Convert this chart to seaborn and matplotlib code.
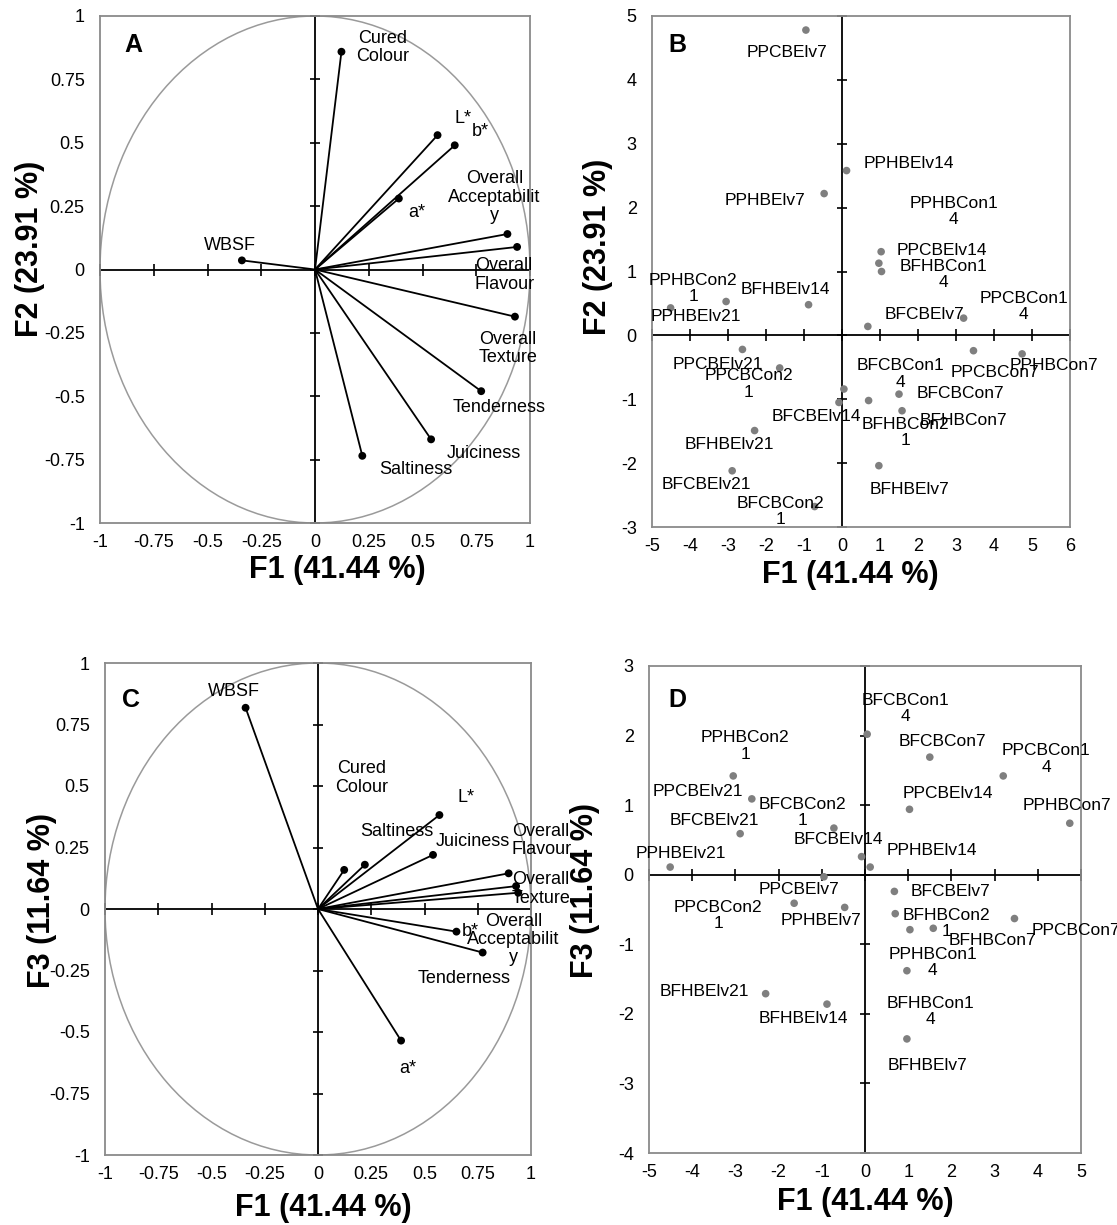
import numpy as np
import pandas as pd
import matplotlib
matplotlib.use("Agg")
import matplotlib.pyplot as plt
import seaborn as sns
from matplotlib.patches import Circle

sns.set_style("white")
plt.rcParams['font.family'] = ['Liberation Sans', 'DejaVu Sans']
plt.rcParams['text.color'] = 'black'
plt.rcParams['axes.labelcolor'] = 'black'
plt.rcParams['xtick.color'] = 'black'
plt.rcParams['ytick.color'] = 'black'

# --- variables (correlation circles A and C)
var_labels = ["WBSF", "Cured\nColour", "L*", "b*", "a*",
              "Overall\nAcceptabilit\ny", "Overall\nFlavour", "Overall\nTexture",
              "Tenderness", "Juiciness", "Saltiness"]
var_f1 = [-0.34, 0.123, 0.57, 0.65, 0.39, 0.895, 0.94, 0.93, 0.773, 0.54, 0.22]
var_f2 = [0.036, 0.859, 0.53, 0.49, 0.28, 0.14, 0.089, -0.186, -0.48, -0.67, -0.735]
var_f3 = [0.818, 0.159, 0.382, -0.092, -0.535, 0.145, 0.066, 0.093, -0.177, 0.22, 0.18]

# --- samples (score plots B and D)
samples = ["PPCBElv7", "PPHBElv14", "PPHBElv7", "PPCBElv14", "BFHBCon14", "PPHBCon14",
           "PPHBElv21", "PPHBCon21", "BFHBElv14", "BFCBElv7", "PPCBCon14", "PPCBElv21",
           "PPCBCon21", "PPCBCon7", "PPHBCon7", "BFCBCon14", "BFCBElv14", "BFHBCon21",
           "BFCBCon7", "BFHBCon7", "BFHBElv21", "BFCBElv21", "BFHBElv7", "BFCBCon21"]
smp_f1 = [-0.95, 0.12, -0.47, 1.03, 0.97, 1.04, -4.51, -3.05, -0.88, 0.68, 3.2, -2.62,
          -1.64, 3.46, 4.74, 0.05, -0.08, 0.70, 1.50, 1.58, -2.30, -2.89, 0.97, -0.72]
smp_f2 = [4.78, 2.58, 2.22, 1.31, 1.13, 1.0, 0.43, 0.53, 0.48, 0.14, 0.27, -0.22,
          -0.51, -0.24, -0.29, -0.84, -1.05, -1.02, -0.92, -1.18, -1.49, -2.12, -2.04, -2.68]
smp_f3 = [-0.03, 0.11, -0.47, 0.94, -1.38, -0.79, 0.11, 1.42, -1.86, -0.24, 1.42, 1.09,
          -0.41, -0.63, 0.74, 2.02, 0.26, -0.56, 1.69, -0.77, -1.71, 0.59, -2.36, 0.67]

# label offsets (pixels) for each text
off_A = [(-12, 15), (41, 4), (26, 17), (26, 14), (18, -14), (-13, 37), (-13, -28),
         (-7, -32), (18, -16), (53, -14), (54, -14)]
off_C = [(-12, 16), (17, 92), (27, 18), (14, 0), (7, -28), (5, -66), (23, 52),
         (25, -3), (-19, -26), (40, 13), (32, 33)]
off_B = [(-19, -22), (62, 7), (-59, -7), (61, 1), (65, -11), (72, 60), (25, -9), (-33, 13),
         (-23, 15), (57, 12), (60, 12), (-25, -15), (-31, -16), (21, -22), (32, -12), (57, 15),
         (-23, -14), (37, -32), (61, 1), (61, -10), (-25, -14), (-26, -14), (31, -24), (-34, -5)]
off_D = [(-25, -13), (62, 17), (-24, -13), (38, 16), (24, -41), (23, -33), (11, 14), (12, 30),
         (-24, -14), (56, 0), (43, 17), (-54, 7), (-76, -12), (61, -12), (-3, 18), (38, 26),
         (-23, 17), (51, -10), (13, 16), (59, -12), (-61, 2), (-26, 13), (21, -27), (-31, 16)]

circ_ticks = [-1, -0.75, -0.5, -0.25, 0, 0.25, 0.5, 0.75, 1]
B_xticks = list(range(-5, 7))
B_yticks = list(range(-3, 6))
D_xticks = list(range(-5, 6))
D_yticks = list(range(-4, 4))

W, H = 1117, 1225
fig = plt.figure(figsize=(W / 100, H / 100), dpi=100)


def box(l, t, r, b):
    return [l / W, (H - b) / H, (r - l) / W, (b - t) / H]


def frame(ax, xticks, yticks, letter, xl, yl, xlc, ylc, letc):
    ax.set_xlim(xticks[0], xticks[-1])
    ax.set_ylim(yticks[0], yticks[-1])
    ax.set_xticks(xticks)
    ax.set_yticks(yticks)
    ax.set_xticklabels([f"{t:g}" for t in xticks])
    ax.set_yticklabels([f"{t:g}" for t in yticks])
    ax.tick_params(axis='x', length=0, labelsize=13, pad=8)
    ax.tick_params(axis='y', length=0, labelsize=13, pad=11)
    for s in ax.spines.values():
        s.set_color('#8a8a8a')
        s.set_linewidth(1.3)
    ax.axhline(0, color='k', lw=1.3, zorder=1)
    ax.axvline(0, color='k', lw=1.3, zorder=1)
    ax.plot(xticks, [0] * len(xticks), ls='none', marker='|', ms=8, mew=1.2, color='k', clip_on=False)
    ax.plot([0] * len(yticks), yticks, ls='none', marker='_', ms=7, mew=1.2, color='k', clip_on=False)
    ax.text(letc[0], letc[1], letter, transform=ax.transAxes, fontsize=18,
            fontweight='bold', ha='center', va='center')
    ax.set_xlabel(xl, fontsize=22, fontweight='bold', va='center')
    ax.set_ylabel(yl, fontsize=22, fontweight='bold', va='center')
    ax.xaxis.set_label_coords(*xlc)
    ax.yaxis.set_label_coords(*ylc)


def vectors(ax, fx, fy, offs):
    ax.add_patch(Circle((0, 0), 1, fill=False, ec='#9a9a9a', lw=1.1, zorder=1))
    for x, y in zip(fx, fy):
        ax.plot([0, x], [0, y], color='k', lw=1.3, zorder=2)
    sns.scatterplot(x=fx, y=fy, color='k', s=32, edgecolor='none', ax=ax, zorder=3)
    for lab, x, y, (dx, dy) in zip(var_labels, fx, fy, offs):
        ax.annotate(lab, (x, y), xytext=(dx, dy), textcoords='offset pixels',
                    ha='center', va='center', fontsize=13, linespacing=1.1)


def wrap(name):
    # long control labels wrap their last digit onto a second line
    if "Con14" in name or "Con21" in name:
        return name[:-1] + "\n" + name[-1]
    return name


def scores(ax, df, ycol, offs):
    sns.scatterplot(data=df, x="F1", y=ycol, color='#7f7f7f', s=30, edgecolor='none', ax=ax, zorder=3)
    for lab, x, y, (dx, dy) in zip(df["sample"], df["F1"], df[ycol], offs):
        ax.annotate(wrap(lab), (x, y), xytext=(dx, dy), textcoords='offset pixels',
                    ha='center', va='center', fontsize=12.5, linespacing=1.1)


df = pd.DataFrame({"sample": samples, "F1": smp_f1, "F2": smp_f2, "F3": smp_f3})

axA = fig.add_axes(box(100, 16, 530, 523))
vectors(axA, var_f1, var_f2, off_A)
frame(axA, circ_ticks, circ_ticks, "A", "F1 (41.44 %)", "F2 (23.91 %)",
      (0.553, -0.093), (-0.163, 0.54), (0.077, 0.943))

axB = fig.add_axes(box(652, 16, 1070, 527))
scores(axB, df, "F2", off_B)
frame(axB, B_xticks, B_yticks, "B", "F1 (41.44 %)", "F2 (23.91 %)",
      (0.474, -0.094), (-0.129, 0.548), (0.06, 0.943))

axC = fig.add_axes(box(105, 663, 531, 1155))
vectors(axC, var_f1, var_f3, off_C)
frame(axC, circ_ticks, circ_ticks, "C", "F1 (41.44 %)", "F3 (11.64 %)",
      (0.512, -0.108), (-0.148, 0.518), (0.061, 0.925))

axD = fig.add_axes(box(649, 666, 1081, 1153))
scores(axD, df, "F3", off_D)
frame(axD, D_xticks, D_yticks, "D", "F1 (41.44 %)", "F3 (11.64 %)",
      (0.5, -0.10), (-0.148, 0.54), (0.065, 0.93))

fig.savefig("out.png", dpi=100)
